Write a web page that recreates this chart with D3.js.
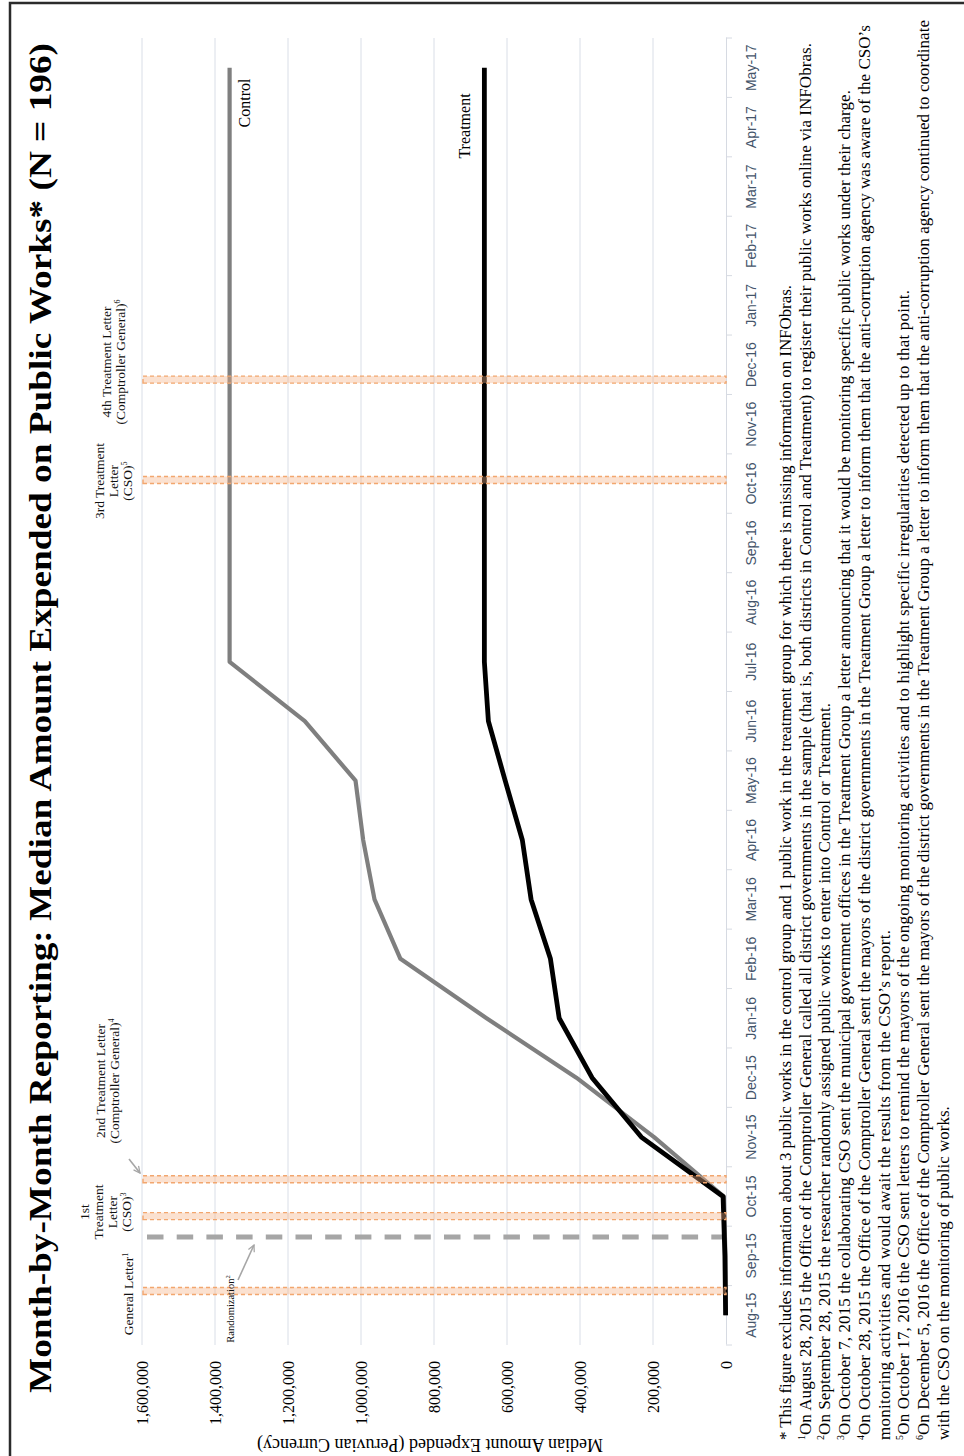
<!DOCTYPE html>
<html><head><meta charset="utf-8">
<script src="https://cdn.jsdelivr.net/npm/d3@7"></script>
<style>html,body{margin:0;padding:0;background:#fff;}svg{display:block;}</style>
</head><body>
<svg id="chart" width="964" height="1456"></svg>
<script>
// ---------- DATA ----------
const months = ["Aug-15","Sep-15","Oct-15","Nov-15","Dec-15","Jan-16","Feb-16","Mar-16","Apr-16","May-16","Jun-16","Jul-16","Aug-16","Sep-16","Oct-16","Nov-16","Dec-16","Jan-17","Feb-17","Mar-17","Apr-17","May-17"];
const control   = [500, 1500, 6000, 197000, 410000, 656000, 892000, 963000, 994000, 1015000, 1154000, 1360000, 1360000, 1360000, 1360000, 1360000, 1360000, 1360000, 1360000, 1360000, 1360000, 1360000];
const treatment = [1000, 3000, 8000, 232000, 367000, 457000, 481000, 534000, 558000, 605000, 651000, 662000, 662000, 662000, 662000, 662000, 662000, 662000, 662000, 662000, 662000, 662000];
const yTicks = [0, 200000, 400000, 600000, 800000, 1000000, 1200000, 1400000, 1600000];
// event positions measured in months from the start of Aug-15
const eventPos = [0.91, 2.17, 2.79, 14.56, 16.25];
const eventLabels = [
  [["General Letter","1"]],
  [["1st",""],["Treatment",""],["Letter",""],["(CSO)","3"]],
  [["2nd Treatment Letter",""],["(Comptroller General)","4"]],
  [["3rd Treatment",""],["Letter",""],["(CSO)","5"]],
  [["4th Treatment Letter",""],["(Comptroller General)","6"]]
];
const randomizationPos = 1.82;
const titleText = "Month-by-Month Reporting: Median Amount Expended on Public Works* (N = 196)";
const yAxisTitle = "Median Amount Expended (Peruvian Currency)";
const footnotes = [
  ["", "* This figure excludes information about 3 public works in the control group and 1 public work in the treatment group for which there is missing information on INFObras."],
  ["1", "On August 28, 2015 the Office of the Comptroller General called all district governments in the sample (that is, both districts in Control and Treatment) to register their public works online via INFObras."],
  ["2", "On September 28, 2015 the researcher randomly assigned public works to enter into Control or Treatment."],
  ["3", "On October 7, 2015 the collaborating CSO sent the municipal government offices in the Treatment Group a letter announcing that it would be monitoring specific public works under their charge."],
  ["4", "On October 28, 2015 the Office of the Comptroller General sent the mayors of the district governments in the Treatment Group a letter to inform them that the anti-corruption agency was aware of the CSO\u2019s"],
  ["", "monitoring activities and would await the results from the CSO\u2019s report."],
  ["5", "On October 17, 2016 the CSO sent letters to remind the mayors of the ongoing monitoring activities and to highlight specific irregularities detected up to that point."],
  ["6", "On December 5, 2016 the Office of the Comptroller General sent the mayors of the district governments in the Treatment Group a letter to inform them that the anti-corruption agency continued to coordinate"],
  ["", "with the CSO on the monitoring of public works."]
];

// ---------- LAYOUT (unrotated frame 1456 x 964, then rotated -90deg) ----------
const W = 1456, H = 964;
const serif = "'Liberation Serif','Times New Roman',serif";
const sans = "'Liberation Sans',Arial,sans-serif";
const svg = d3.select("#chart");
const g = svg.append("g").attr("transform", `translate(0,${W}) rotate(-90)`);

// frame
g.append("rect").attr("x", -20).attr("y", 10).attr("width", 1473).attr("height", 1000)
  .attr("fill", "none").attr("stroke", "#2b2b2b").attr("stroke-width", 2.5);

const x = d3.scaleBand().domain(months).range([111, 1418]).padding(0);
const xc = m => x(m) + x.bandwidth() / 2;
const xt = d3.scaleLinear().domain([0, months.length]).range([111, 1418]);
const y = d3.scaleLinear().domain([0, 1600000]).range([726, 142]);

// title
g.append("text").attr("x", 738).attr("y", 51).attr("text-anchor", "middle")
  .attr("font-family", serif).attr("font-weight", "bold").attr("font-size", 31)
  .attr("textLength", 1350).attr("lengthAdjust", "spacingAndGlyphs")
  .text(titleText);

// gridlines
g.append("g").selectAll("line").data(yTicks.filter(d => d > 0)).join("line")
  .attr("x1", 111).attr("x2", 1418).attr("y1", d => y(d)).attr("y2", d => y(d))
  .attr("stroke", "#d9dee7").attr("stroke-width", 1);

// y axis labels
const yAxis = d3.axisLeft(y).tickValues(yTicks).tickFormat(d3.format(",")).tickSize(0).tickPadding(0);
const ya = g.append("g").attr("transform", "translate(95,0)").call(yAxis);
ya.select(".domain").remove();
ya.selectAll("text").attr("font-family", serif).attr("font-size", 16).attr("fill", "#000");

// category axis
const xAxis = d3.axisBottom(x).tickSize(0).tickPadding(0);
const xa = g.append("g").attr("transform", "translate(0,726)").call(xAxis);
xa.select(".domain").attr("stroke", "#d6dae2");
xa.selectAll("text").attr("font-family", sans).attr("font-size", 14).attr("fill", "#44546a")
  .attr("y", 30).attr("dy", 0);
xa.selectAll(".tick line").remove();
g.append("g").selectAll("line").data(d3.range(months.length + 1)).join("line")
  .attr("x1", d => xt(d)).attr("x2", d => xt(d)).attr("y1", 726).attr("y2", 732)
  .attr("stroke", "#d6dae2");

// randomization dashed line
g.append("line").attr("x1", xt(randomizationPos)).attr("x2", xt(randomizationPos))
  .attr("y1", 147).attr("y2", 726).attr("stroke", "#a6a6a6").attr("stroke-width", 5)
  .attr("stroke-dasharray", "16.5,13.2");

// series lines
const line = d3.line().x((d, i) => xc(months[i])).y(d => y(d));
g.append("path").datum(control).attr("d", line).attr("fill", "none")
  .attr("stroke", "#7f7f7f").attr("stroke-width", 4.2).attr("stroke-linejoin", "round");
g.append("path").datum(treatment).attr("d", line).attr("fill", "none")
  .attr("stroke", "#000").attr("stroke-width", 4.8).attr("stroke-linejoin", "round");

// event bands
g.append("g").selectAll("rect").data(eventPos).join("rect")
  .attr("x", d => xt(d) - 3.5).attr("width", 7).attr("y", 143).attr("height", 726 - 143)
  .attr("fill", "#f4b183").attr("fill-opacity", 0.38)
  .attr("stroke", "#f2a66e").attr("stroke-width", 1.4).attr("stroke-dasharray", "4,3");

// event labels
const labelCenters = [162, 244, 375, 975, 1094];
const labelBaselines = [[133], [89, 103, 117, 131], [105, 119], [104, 118, 132], [111, 125]];
eventLabels.forEach((lines, i) => {
  lines.forEach((ln, j) => {
    const t = g.append("text").attr("x", labelCenters[i]).attr("y", labelBaselines[i][j])
      .attr("text-anchor", "middle").attr("font-family", serif).attr("font-size", 13.5).attr("fill", "#111");
    t.append("tspan").text(ln[0]);
    if (ln[1]) t.append("tspan").attr("font-size", 8).attr("dy", -5.5).text(ln[1]);
  });
});
// randomization label
const rt = g.append("text").attr("x", 147).attr("y", 234).attr("text-anchor", "middle")
  .attr("font-family", serif).attr("font-size", 10.5).attr("fill", "#111");
rt.append("tspan").text("Randomization");
rt.append("tspan").attr("font-size", 6.5).attr("dy", -4).text("2");

// arrows
const defs = svg.append("defs");
defs.append("marker").attr("id", "ah").attr("viewBox", "0 0 10 10").attr("refX", 9).attr("refY", 5)
  .attr("markerWidth", 5).attr("markerHeight", 5).attr("orient", "auto")
  .append("path").attr("d", "M1,1 L9,5 L1,9").attr("fill", "none").attr("stroke", "#a6a6a6").attr("stroke-width", 1.6);
g.append("line").attr("x1", 176).attr("y1", 238).attr("x2", 211).attr("y2", 254)
  .attr("stroke", "#a6a6a6").attr("stroke-width", 1.6).attr("marker-end", "url(#ah)");
g.append("line").attr("x1", 297).attr("y1", 129).attr("x2", 283).attr("y2", 140)
  .attr("stroke", "#a6a6a6").attr("stroke-width", 1.6).attr("marker-end", "url(#ah)");

// series labels
g.append("text").attr("x", 1353).attr("y", 250).attr("text-anchor", "middle")
  .attr("font-family", serif).attr("font-size", 16).text("Control");
g.append("text").attr("x", 1330).attr("y", 470).attr("text-anchor", "middle")
  .attr("font-family", serif).attr("font-size", 16).text("Treatment");

// y axis title
g.append("text").attr("transform", "translate(17,430) rotate(-90)").attr("text-anchor", "middle")
  .attr("font-family", serif).attr("font-size", 18).text(yAxisTitle);

// footnotes (line end positions)
const footEnds = [1171, 1413, 753, 1366, 1431, 526, 1166, 1436, 346];
footnotes.forEach((f, i) => {
  const t = g.append("text").attr("x", 16).attr("y", 791 + i * 19.7)
    .attr("font-family", serif).attr("font-size", 17).attr("fill", "#000");
  if (f[0]) {
    t.append("tspan").attr("font-size", 10).attr("dy", -6).text(f[0]);
    t.append("tspan").attr("dy", 6).text(f[1]);
  } else {
    t.append("tspan").text(f[1]);
  }
  const natural = t.node().getComputedTextLength();
  const target = footEnds[i] - 16;
  if (Math.abs(target - natural) > 4) t.attr("textLength", target).attr("lengthAdjust", "spacing");
});
</script>
</body></html>
